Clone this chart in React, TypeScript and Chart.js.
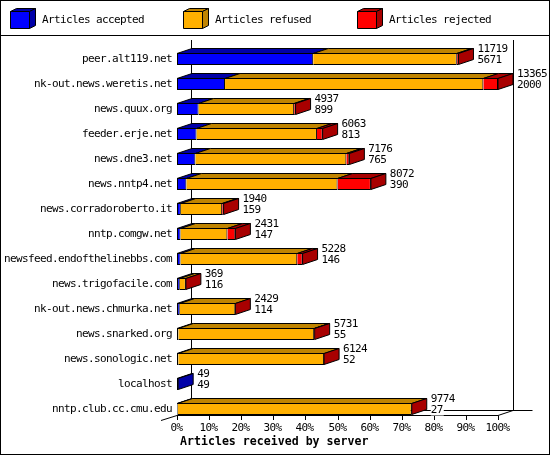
import React, { useEffect, useRef } from "react";
import { Chart, registerables } from "chart.js";

Chart.register(...registerables);

const servers = [
  "peer.alt119.net",
  "nk-out.news.weretis.net",
  "news.quux.org",
  "feeder.erje.net",
  "news.dne3.net",
  "news.nntp4.net",
  "news.corradoroberto.it",
  "nntp.comgw.net",
  "newsfeed.endofthelinebbs.com",
  "news.trigofacile.com",
  "nk-out.news.chmurka.net",
  "news.snarked.org",
  "news.sonologic.net",
  "localhost",
  "nntp.club.cc.cmu.edu",
];

const accepted = [5671, 2000, 899, 813, 765, 390, 159, 147, 146, 116, 114, 55, 52, 49, 27];
const refused = [5978, 10754, 3978, 5014, 6286, 6295, 1721, 1951, 4860, 253, 2315, 5656, 6072, null, 9747];
const rejected = [70, 611, 60, 236, 125, 1387, 60, 333, 222, 0, 0, 20, 0, null, 0];

const seriesNames = ["Articles accepted", "Articles refused", "Articles rejected"];
const xTickLabels = ["0%", "10%", "20%", "30%", "40%", "50%", "60%", "70%", "80%", "90%", "100%"];
const axisTitle = "Articles received by server";

const frontColors = ["#0000ff", "#ffb000", "#ff0000"];
const darkColors = ["#0000a8", "#c08400", "#a80000"];

const totals = servers.map(
  (_, i) => (accepted[i] || 0) + (refused[i] || 0) + (rejected[i] || 0)
);
const maxTotal = Math.max(...totals);

const DX = 15;
const DY = 5;
const BAR = 12;
const FONT = '11px "DejaVu Sans Mono", monospace';
const SPACING = "-0.62px";
const BOLD = 'bold 11.6px "DejaVu Sans Mono", monospace';

function setFont(ctx: any, bold = false) {
  ctx.font = bold ? BOLD : FONT;
  if ("letterSpacing" in ctx) ctx.letterSpacing = bold ? "0px" : SPACING;
}

function poly(ctx: CanvasRenderingContext2D, pts: number[][], fill: string) {
  ctx.beginPath();
  ctx.moveTo(pts[0][0], pts[0][1]);
  for (let k = 1; k < pts.length; k++) ctx.lineTo(pts[k][0], pts[k][1]);
  ctx.closePath();
  ctx.fillStyle = fill;
  ctx.fill();
  ctx.strokeStyle = "#000";
  ctx.lineWidth = 1;
  ctx.stroke();
}

function line(ctx: CanvasRenderingContext2D, x1: number, y1: number, x2: number, y2: number) {
  ctx.beginPath();
  ctx.moveTo(x1, y1);
  ctx.lineTo(x2, y2);
  ctx.strokeStyle = "#000";
  ctx.lineWidth = 1;
  ctx.stroke();
}

const data3d = [accepted, refused, rejected];

function barGeom(chart: any, ds: number, j: number) {
  const el = chart.getDatasetMeta(ds).data[j];
  const p = el.getProps(["x", "y", "base", "height"], true);
  const x0 = Math.min(p.x, p.base);
  const x1 = Math.max(p.x, p.base);
  const top = p.y - p.height / 2;
  const bottom = p.y + p.height / 2;
  return { x0, x1, top, bottom, y: p.y };
}

function lastDataset(j: number) {
  let last = 0;
  for (let d = 0; d < data3d.length; d++) if (data3d[d][j] != null) last = d;
  return last;
}

const plugin3d = {
  id: "threeD",
  beforeDraw(chart: any) {
    const ctx: CanvasRenderingContext2D = chart.ctx;
    const W = chart.width;
    const H = chart.height;
    const xs = chart.scales.x;
    const ys = chart.scales.y;
    const { top } = chart.chartArea;
    ctx.save();
    ctx.fillStyle = "#fff";
    ctx.fillRect(0, 0, W, H);
    ctx.strokeStyle = "#000";
    ctx.lineWidth = 1;
    ctx.strokeRect(0.5, 0.5, W - 1, H - 1);
    line(ctx, 0, 35.5, W, 35.5);

    // legend
    const legendX = [10, 183, 357];
    setFont(ctx);
    ctx.textBaseline = "middle";
    ctx.textAlign = "left";
    seriesNames.forEach((name, i) => {
      const lx = legendX[i] + 0.5;
      const fy = 11.5, fb = 28.5, w = 19, d = 6, dy = 3;
      poly(ctx, [[lx, fy], [lx + w, fy], [lx + w + d, fy - dy], [lx + d, fy - dy]], darkColors[i]);
      poly(ctx, [[lx + w, fy], [lx + w + d, fy - dy], [lx + w + d, fb - dy], [lx + w, fb]], darkColors[i]);
      poly(ctx, [[lx, fy], [lx + w, fy], [lx + w, fb], [lx, fb]], frontColors[i]);
      ctx.fillStyle = "#000";
      ctx.fillText(name, legendX[i] + 32, 20);
    });

    // walls and floor
    const x0 = xs.getPixelForValue(0);
    const x100 = xs.getPixelForValue(maxTotal);
    const frontY = Math.round(ys.getPixelForValue(servers.length - 1) + BAR / 2) + 0.5;
    const backY = frontY - DY;
    const wallTop = Math.round(top - 6.5);
    const lw = Math.round(x0 + DX) - 0.5;
    const rw = Math.round(x100 + DX) + 0.5;
    line(ctx, lw, wallTop, lw, backY);
    line(ctx, rw, wallTop, rw, backY);
    line(ctx, lw, backY, rw + 19, backY);
    line(ctx, x0, frontY, x100, frontY);
    line(ctx, x100, frontY, x100 + DX, backY);
    line(ctx, x0 - 16, frontY + 5, x0, frontY);

    // ticks and tick labels
    setFont(ctx);
    ctx.textAlign = "center";
    ctx.fillStyle = "#000";
    xTickLabels.forEach((lab, i) => {
      const tx = Math.round(xs.getPixelForValue((maxTotal * i) / 10)) + 0.5;
      line(ctx, tx, frontY, tx, frontY + 4.5);
      ctx.fillStyle = "#000";
      ctx.fillText(lab, tx - 1, frontY + 13);
    });

    // axis title
    setFont(ctx, true);
    ctx.textAlign = "left";
    ctx.fillText(axisTitle, x0 + 3, frontY + 26.5);

    // category labels
    setFont(ctx);
    ctx.textAlign = "right";
    servers.forEach((s, j) => {
      ctx.fillText(s, 172, ys.getPixelForValue(j));
    });
    ctx.restore();
  },
  beforeDatasetsDraw(chart: any) {
    const ctx: CanvasRenderingContext2D = chart.ctx;
    ctx.save();
    servers.forEach((_, j) => {
      for (let d = 0; d < data3d.length; d++) {
        const v = data3d[d][j];
        if (v == null || v === 0) continue;
        const g = barGeom(chart, d, j);
        const t = Math.round(g.top) + 0.5;
        poly(ctx, [[g.x0, t], [g.x1, t], [g.x1 + DX, t - DY], [g.x0 + DX, t - DY]], darkColors[d]);
      }
      const last = lastDataset(j);
      const g = barGeom(chart, last, j);
      const t = Math.round(g.top) + 0.5;
      const b = Math.round(g.bottom) - 0.5;
      poly(ctx, [[g.x1, t], [g.x1 + DX, t - DY], [g.x1 + DX, b - DY], [g.x1, b]], darkColors[last]);
    });
    ctx.restore();
  },
  afterDatasetsDraw(chart: any) {
    const ctx: CanvasRenderingContext2D = chart.ctx;
    ctx.save();
    setFont(ctx);
    ctx.textAlign = "left";
    ctx.textBaseline = "middle";
    servers.forEach((_, j) => {
      const last = lastDataset(j);
      const g = barGeom(chart, last, j);
      const tx = g.x1 + DX + 4;
      const lines = [String(totals[j]), String(accepted[j])];
      const ys = [g.y - 10, g.y + 1.5];
      lines.forEach((txt, k) => {
        const w = ctx.measureText(txt).width;
        ctx.fillStyle = "#fff";
        ctx.fillRect(tx, ys[k] - 5, w + 1, 10);
        ctx.fillStyle = "#000";
        ctx.fillText(txt, tx, ys[k]);
      });
    });
    ctx.restore();
  },
};

export default function App() {
  const ref = useRef<HTMLCanvasElement>(null);
  useEffect(() => {
    document.body.style.margin = "0";
    if (!ref.current) return;
    const chart = new Chart(ref.current, {
      type: "bar",
      data: {
        labels: servers,
        datasets: data3d.map((arr, d) => ({
          label: seriesNames[d],
          data: arr as any,
          backgroundColor: frontColors[d],
          borderColor: "#000",
          borderWidth: 1,
          borderSkipped: d === 0 ? false : "start",
          barThickness: BAR,
          inflateAmount: 0,
        })) as any,
      },
      options: {
        indexAxis: "y",
        animation: false,
        responsive: false,
        devicePixelRatio: 1,
        layout: { padding: { left: 177, right: 52, top: 46.5, bottom: 33.5 } },
        plugins: { legend: { display: false }, tooltip: { enabled: false } },
        scales: {
          x: { stacked: true, min: 0, max: maxTotal, display: false },
          y: { stacked: true, display: false },
        },
      } as any,
      plugins: [plugin3d],
    });
    return () => chart.destroy();
  }, []);
  return (
    <div style={{ position: "absolute", left: 0, top: 0, width: 550, height: 455 }}>
      <canvas ref={ref} width={550} height={455} style={{ width: 550, height: 455, display: "block" }} />
    </div>
  );
}
